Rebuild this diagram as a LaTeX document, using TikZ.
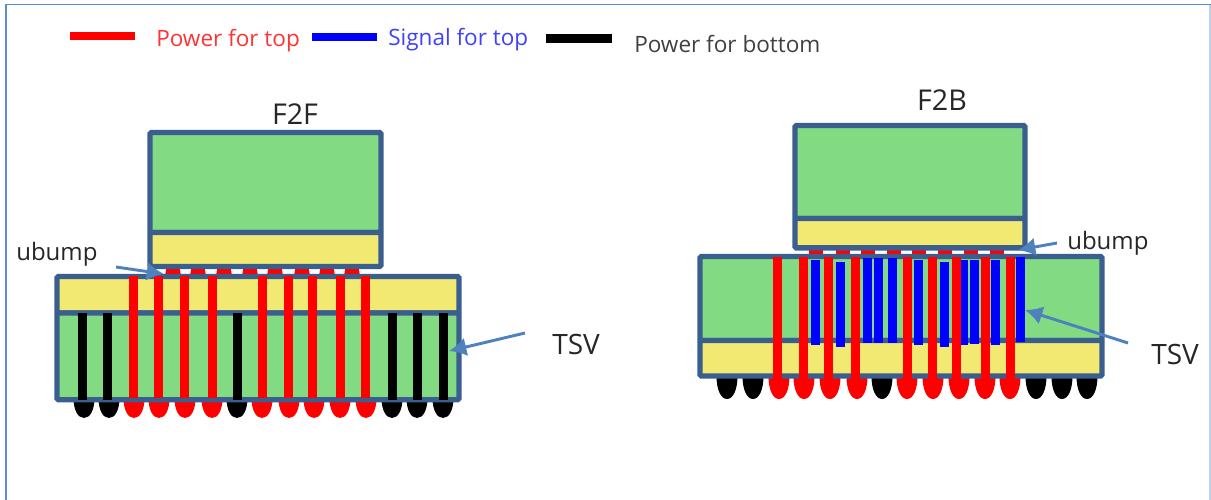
\documentclass[tikz,border=0pt]{standalone}
\usepackage{fontspec}
\setmainfont{Open Sans}
\usepackage{xcolor}
\usetikzlibrary{positioning,arrows.meta}
\definecolor{chipgreen}{HTML}{82DB83}
\definecolor{chipyellow}{HTML}{F2E972}
\definecolor{chipline}{HTML}{3A5F8F}
\definecolor{callout}{HTML}{4F81BD}
\definecolor{framecol}{HTML}{5B8CCB}

\begin{document}
\begin{tikzpicture}[x=0.75pt,y=-0.75pt,
    layerbox/.style={draw=chipline, line width=4pt, rounded corners=1pt, anchor=north west, inner sep=0pt, outer sep=0pt},
    legendbar/.style={minimum width=49pt, minimum height=6.4pt, inner sep=0pt},
    legendtext/.style={font=\fontsize{16.9pt}{18pt}\selectfont, inner sep=0pt},
    labeltext/.style={font=\fontsize{18pt}{20pt}\selectfont, text=black!85, inner sep=0pt},
    titletext/.style={font=\fontsize{21.5pt}{23pt}\selectfont, text=black!85, inner sep=0pt},
    callarrow/.style={callout, line width=2.2pt, -{Latex[length=13pt,width=14pt]}}]
    \useasboundingbox (0,0) rectangle (1211,500);
    \draw[framecol!40, line width=0.8pt] (1210,4.5) -- (1210,500);
    \draw[framecol, line width=1.2pt] (6,500) -- (6,4.5) -- (1211,4.5);

    % legend
    \node[legendbar, fill=red] (barpower) at (102.5,36) {};
    \node[legendbar, fill=blue] (barsignal) at (344.5,37) {};
    \node[legendbar, fill=black] (barbottom) at (579,38.5) {};
    \node[legendtext, text=red!80!white, anchor=west] (txtpower) at (156,41) {Power for top};
    \node[legendtext, text=blue!75!white, anchor=west] (txtsignal) at (388,40) {Signal for top};
    \node[legendtext, text=black!75, anchor=west] (txtbottom) at (634,44) {Power for bottom};

    % F2F: bumps first, the boxes cover their roots
    \foreach \x in {173,198,224,250,275,302,327,352}
        \fill[red] (\x-8,276) -- (\x-6,264) -- (\x+6,264) -- (\x+8,276) -- cycle;
    \foreach \x in {84,109,237,392,417,443}
        \fill[black] (\x-10.5,398) .. controls (\x-10.5,410) and (\x-6,418) .. (\x,418) .. controls (\x+6,418) and (\x+10.5,410) .. (\x+10.5,398) -- cycle;
    \foreach \x in {134,159,185,212,262,289,314,340,366}
        \fill[red] (\x-10.5,398) .. controls (\x-10.5,410) and (\x-6,418) .. (\x,418) .. controls (\x+6,418) and (\x+10.5,410) .. (\x+10.5,398) -- cycle;

    \node[layerbox, fill=chipgreen, minimum width=173.25pt, minimum height=75pt] (topdiea) at (150,132.5) {};
    \node[layerbox, fill=chipyellow, minimum width=173.25pt, minimum height=25.5pt] (topfacea) at (150,232.5) {};
    \node[layerbox, fill=chipyellow, minimum width=301.5pt, minimum height=27.4pt] (botfacea) at (57,276.5) {};
    \node[layerbox, fill=chipgreen, minimum width=301.5pt, minimum height=65pt] (botdiea) at (57,313) {};

    \foreach \x in {82,107,237,392,417,443}
        \fill[black] (\x-4.5,313) rectangle (\x+4.5,400);
    \foreach \x in {133,158,184,212,262,288,312,340,365}
        \fill[red] (\x-4.5,276) rectangle (\x+4.5,398);

    \node[titletext] (titlea) at (295,114) {F2F};
    \node[labeltext, anchor=west] (ubumpa) at (16,254) {ubump};
    \node[labeltext, anchor=west, font=\fontsize{21pt}{23pt}\selectfont] (tsva) at (552,344) {TSV};
    \coordinate (ubumpatip) at (164,274);
    \coordinate (ubumpatail) at (116,267);
    \coordinate (tsvatip) at (449,351);
    \coordinate (tsvatail) at (525,333);
    \draw[callarrow] (ubumpatail) -- (ubumpatip);
    \draw[callarrow] (tsvatail) -- (tsvatip);

    % F2B
    \foreach \x in {816,843,868,894,919,945,971,997}
        \fill[red] (\x-7,246) rectangle (\x+7,258);
    \foreach \x in {727,753,882,1036,1062,1087}
        \fill[black] (\x-10.5,376) .. controls (\x-10.5,390) and (\x-6,399) .. (\x,399) .. controls (\x+6,399) and (\x+10.5,390) .. (\x+10.5,376) -- cycle;
    \foreach \x in {779,804,830,857,907,933,959,985,1010}
        \fill[red] (\x-10.5,376) .. controls (\x-10.5,390) and (\x-6,399) .. (\x,399) .. controls (\x+6,399) and (\x+10.5,390) .. (\x+10.5,376) -- cycle;

    \node[layerbox, fill=chipgreen, minimum width=172.5pt, minimum height=69.75pt] (topdieb) at (795,125.5) {};
    \node[layerbox, fill=chipyellow, minimum width=172.5pt, minimum height=22pt] (topfaceb) at (795,218.5) {};
    \node[layerbox, fill=chipgreen, minimum width=301.5pt, minimum height=63pt] (botdieb) at (700,256.5) {};
    \node[layerbox, fill=chipyellow, minimum width=301.5pt, minimum height=26.6pt] (botfaceb) at (700,340.5) {};

    \foreach \x/\ya/\yb in {815/260/345,840/262/347,867/258/343,878/258/343,892/258/343,918/260/345,944/262/347,963/260/345,974/260/344,995/260/345,1020/257/342}
        \fill[blue] (\x-4.5,\ya) rectangle (\x+4.5,\yb);
    \foreach \x in {777,803,828,855,907,932,956,985,1010}
        \fill[red] (\x-4.5,257) rectangle (\x+4.5,380);

    \node[titletext] (titleb) at (942,100) {F2B};
    \node[labeltext, anchor=west] (ubumpb) at (1067,243) {ubump};
    \node[labeltext, anchor=west, font=\fontsize{21pt}{23pt}\selectfont] (tsvb) at (1151,354) {TSV};
    \coordinate (ubumpbtip) at (1018,250);
    \coordinate (ubumpbtail) at (1057,243);
    \coordinate (tsvbtip) at (1025,310);
    \coordinate (tsvbtail) at (1128,343);
    \draw[callarrow] (ubumpbtail) -- (ubumpbtip);
    \draw[callarrow] (tsvbtail) -- (tsvbtip);
\end{tikzpicture}
\end{document}
